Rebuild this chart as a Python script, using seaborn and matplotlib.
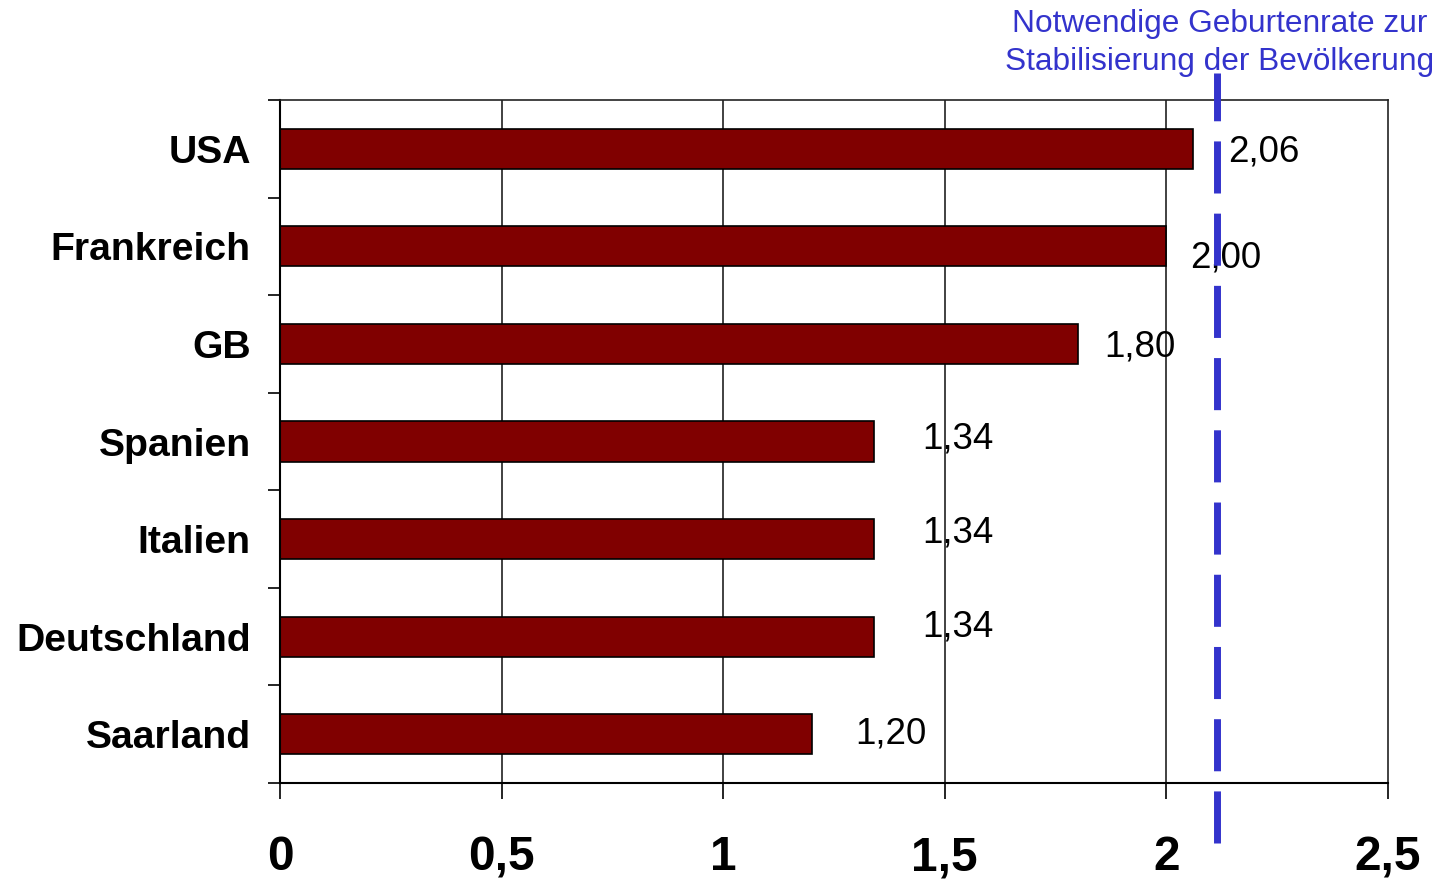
import matplotlib
matplotlib.use("Agg")
import matplotlib.pyplot as plt
import seaborn as sns
import pandas as pd

# Geburtenrate (Kinder je Frau)
laender = ["USA", "Frankreich", "GB", "Spanien", "Italien", "Deutschland", "Saarland"]
geburtenrate = [2.06, 2.00, 1.80, 1.34, 1.34, 1.34, 1.20]

# Notwendige Rate zur Stabilisierung
stabil_rate = 2.115
stabil_text = "Notwendige Geburtenrate zur\nStabilisierung der Bevölkerung"

x_ticks = [0, 0.5, 1, 1.5, 2, 2.5]
x_tick_labels = ["0", "0,5", "1", "1,5", "2", "2,5"]

# Verschiebung der Wertbeschriftungen (Pixel), wie im Original
label_offsets = [(35, -3), (24, -12), (26, -3), (48, 3), (48, 6), (48, 10), (43, 0)]

df = pd.DataFrame({"Land": laender, "Rate": geburtenrate})

sns.set_style("white")
plt.rcParams["font.family"] = ["Liberation Sans", "DejaVu Sans"]
plt.rcParams["xtick.color"] = "black"
plt.rcParams["ytick.color"] = "black"
plt.rcParams["text.color"] = "black"

fig = plt.figure(figsize=(14.43, 8.80), dpi=100)
ax = fig.add_axes([280 / 1443, 97 / 880, 1108 / 1443, 683 / 880])

sns.barplot(data=df, x="Rate", y="Land", orient="h", color="#800000",
            edgecolor="black", linewidth=1.2, width=0.41, saturation=1, ax=ax)

ax.set_xlim(0, 2.5)
ax.set_ylim(6.5, -0.5)
ax.set_xlabel("")
ax.set_ylabel("")

# vertikale Gitterlinien
for xv in x_ticks[1:-1]:
    ax.axvline(xv, color="#333333", linewidth=1.3, zorder=0)

ax.set_xticks(x_ticks)
ax.set_xticklabels(x_tick_labels, fontsize=34.5, fontweight="bold", color="black")
ax.tick_params(axis="x", direction="out", length=11.5, width=1.2, colors="black",
               pad=26, bottom=True)

ax.set_yticks(range(len(laender)))
ax.set_yticklabels(laender, fontsize=28.2, fontweight="bold", color="black")
ax.tick_params(axis="y", which="major", length=0, pad=21)
ax.set_yticks([i - 0.5 for i in range(len(laender) + 1)], minor=True)
ax.tick_params(axis="y", which="minor", direction="out", length=8.6, width=1.2,
               color="black", left=True)

for side in ["left", "bottom"]:
    ax.spines[side].set_color("black")
    ax.spines[side].set_linewidth(1.5)
for side in ["top", "right"]:
    ax.spines[side].set_color("#222222")
    ax.spines[side].set_linewidth(1.2)

# Wertbeschriftungen
for i, (v, off) in enumerate(zip(geburtenrate, label_offsets)):
    ax.annotate(f"{v:.2f}".replace(".", ","), xy=(v, i), xytext=off,
                textcoords="offset pixels", ha="left", va="center",
                fontsize=26.5, color="black", annotation_clip=False)

# Stabilisierungslinie
ax.axvline(stabil_rate, ymin=-0.088, ymax=1.04, color="#3333CC", linewidth=5,
           linestyle=(0, (7.5, 2.9)), clip_on=False, zorder=5)

fig.text(1220 / 1443, 1 - 43 / 880, stabil_text, ha="center", va="center",
         fontsize=22.8, color="#3333CC", linespacing=1.33)

fig.savefig("out.png", dpi=100)
